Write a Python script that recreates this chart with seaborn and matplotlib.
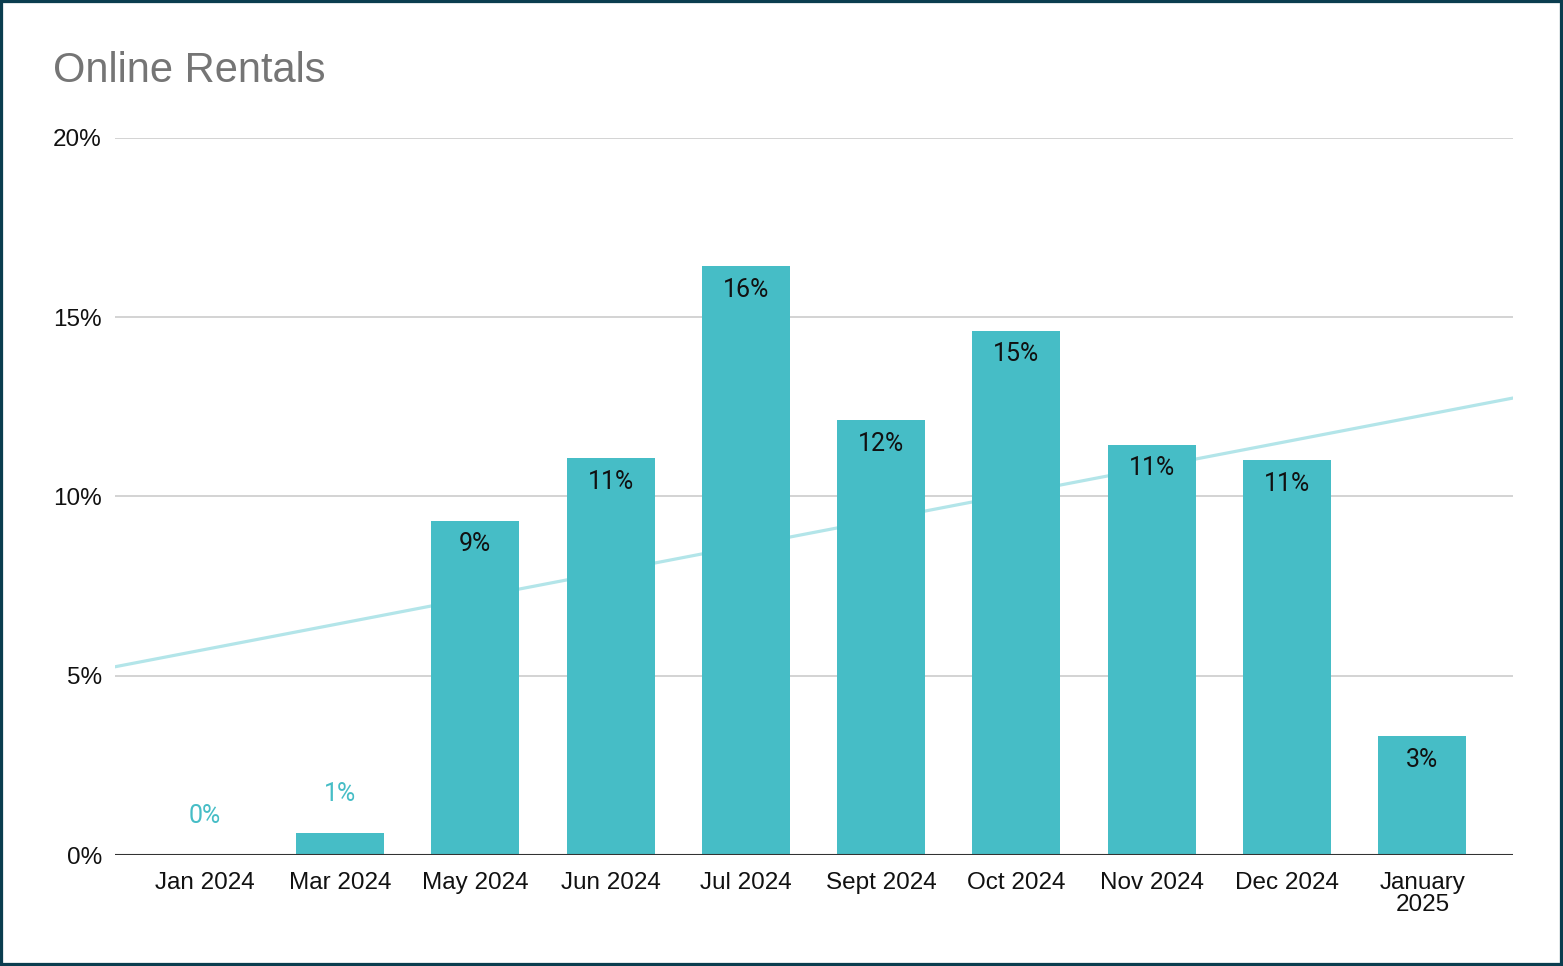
import numpy as np
import pandas as pd
import matplotlib
matplotlib.use('Agg')
import matplotlib.pyplot as plt
from matplotlib.patches import Rectangle
import seaborn as sns

# Dane
months = ['Jan 2024', 'Mar 2024', 'May 2024', 'Jun 2024', 'Jul 2024',
          'Sept 2024', 'Oct 2024', 'Nov 2024', 'Dec 2024', 'January\n2025']
rental_share = [0.0, 0.61, 9.32, 11.07, 16.43, 12.13, 14.62, 11.44, 11.02, 3.32]
y_ticks = [0, 5, 10, 15, 20]

BAR = '#46BDC6'
TREND = '#B3E5E9'
BORDER = '#0B3D4F'

df = pd.DataFrame({'month': months, 'share': rental_share, 'idx': np.arange(len(months))})

sns.set_style('white')
plt.rcParams['font.family'] = ['Liberation Sans', 'DejaVu Sans']

fig = plt.figure(figsize=(15.63, 9.66), dpi=100)
ax = fig.add_axes([115 / 1563, 111 / 966, 1398 / 1563, 717 / 966])

# Słupki
sns.barplot(data=df, x='month', y='share', color=BAR, width=0.65,
            saturation=1, linewidth=0, ax=ax, zorder=3)
ax.set_xlim(-0.663, 9.67)
ax.set_ylim(0, 20)

# Linia trendu (regresja liniowa)
sns.regplot(data=df, x='idx', y='share', scatter=False, ci=None, truncate=False,
            ax=ax, line_kws={'color': TREND, 'lw': 2.3, 'zorder': 2})
ax.set_xlim(-0.663, 9.67)

# Siatka i osie
ax.set_yticks(y_ticks)
ax.set_yticklabels([f'{t}%' for t in y_ticks])
for t in y_ticks[1:]:
    ax.axhline(t, color='#CCCCCC', lw=1.2, zorder=1)
ax.axhline(0, color='#333333', lw=1.5, zorder=4)
for s in ax.spines.values():
    s.set_visible(False)
ax.tick_params(axis='both', length=0, labelsize=17.5, colors='#111111')
ax.tick_params(axis='y', pad=9.5)
ax.tick_params(axis='x', pad=12)
for lbl in ax.get_xticklabels():
    lbl.set_linespacing(1.0)
ax.set_xlabel('')
ax.set_ylabel('')

# Etykiety wartości
for i, v in enumerate(rental_share):
    txt = f'{round(v)}%'
    if v > 2:
        ax.annotate(txt, (i, v), xytext=(0, -17), textcoords='offset points',
                    ha='center', va='center', fontsize=18, color='#111111',
                    family=['Roboto', 'DejaVu Sans'], zorder=5)
    else:
        ax.annotate(txt, (i, v), xytext=(0, 28), textcoords='offset points',
                    ha='center', va='center', fontsize=18, color=BAR,
                    family=['Roboto', 'DejaVu Sans'], zorder=5)

# Tytuł
fig.text(53 / 1563, 1 - 71 / 966, 'Online Rentals', fontsize=30, color='#757575',
         ha='left', va='center')

# Ramka
fig.patches.append(Rectangle((0, 0), 1, 1, transform=fig.transFigure, fill=False,
                             edgecolor=BORDER, linewidth=4.5))

plt.savefig('out.png', dpi=100, facecolor='white')
plt.close()
